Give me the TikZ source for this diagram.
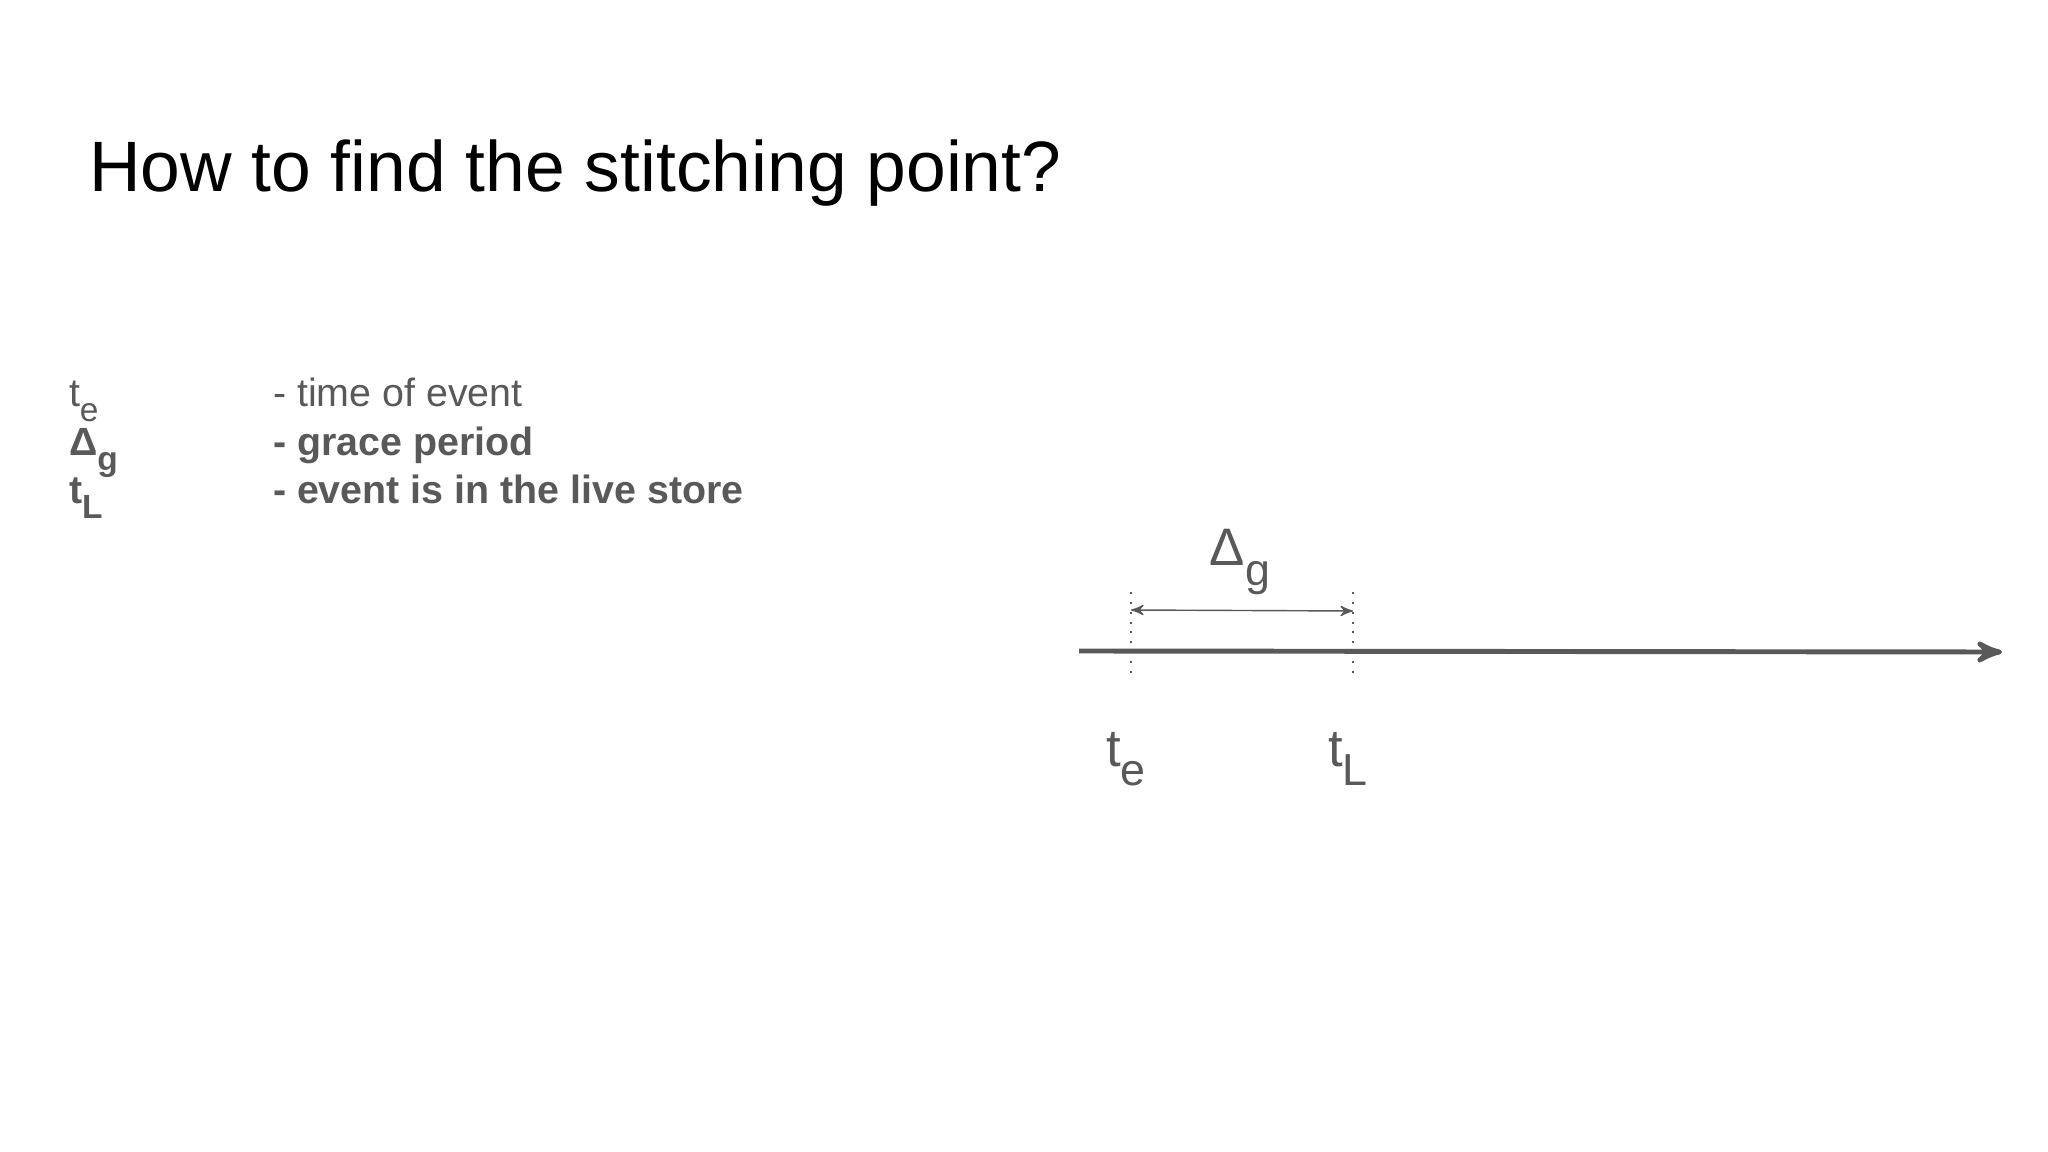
\documentclass[tikz,border=0pt]{standalone}
\usepackage{fontspec}
\setmainfont{Liberation Sans}
\usepackage{tikz}
\usetikzlibrary{arrows}
\usetikzlibrary{positioning}

\definecolor{darkgrey}{HTML}{595959}
\newcommand{\lowsub}[1]{\raisebox{-0.7ex}{\scalebox{0.85}{#1}}}

\begin{document}
\begin{tikzpicture}[x=0.01cm, y=-0.01cm, >=stealth', semithick]
  \tikzstyle{legend}=[anchor=base west, inner sep=0pt, text=darkgrey, font=\fontsize{11.2}{13}\selectfont]
  \tikzstyle{tick}=[draw=darkgrey, thin, dash pattern=on 0.6pt off 2.2pt]
  \tikzstyle{mark label}=[anchor=base, inner sep=0pt, text=darkgrey, font=\fontsize{15}{18}\selectfont]

  \useasboundingbox (0,0) rectangle (2048,1152);

  \node[anchor=base west, inner sep=0pt, font=\fontsize{20.3}{24}\selectfont] (title) at (88,192) {How to find the stitching point?};

  % legend
  \node[legend] (symte) at (68,407) {t\lowsub{e}};
  \node[legend] (symdg) at (68,456) {\bfseries Δ\lowsub{g}};
  \node[legend] (symtl) at (68,504) {\bfseries t\lowsub{L}};
  \node[legend] (txtte) at (272,407) {- time of event};
  \node[legend] (txtdg) at (272,456) {\bfseries - grace period};
  \node[legend] (txttl) at (272,504) {\bfseries - event is in the live store};

  % time axis
  \coordinate (start) at (1079,651);
  \coordinate (end) at (2002,652);
  \coordinate (te top) at (1131,592);
  \coordinate (te bot) at (1131,680);
  \coordinate (tl top) at (1353,592);
  \coordinate (tl bot) at (1353,680);

  \draw[darkgrey, line width=1.4pt, ->] (start) -- (end);
  \draw[tick] (te top) -- (te bot);
  \draw[tick] (tl top) -- (tl bot);
  \draw[darkgrey, thin, <->] (1131,610) coordinate (ga) -- (1353,611) coordinate (gb);

  \node[mark label] (dg) at (1240,566) {Δ\lowsub{g}};
  \node[mark label] (te) at (1126,766) {t\lowsub{e}};
  \node[mark label] (tl) at (1348,766) {t\lowsub{L}};
\end{tikzpicture}
\end{document}
